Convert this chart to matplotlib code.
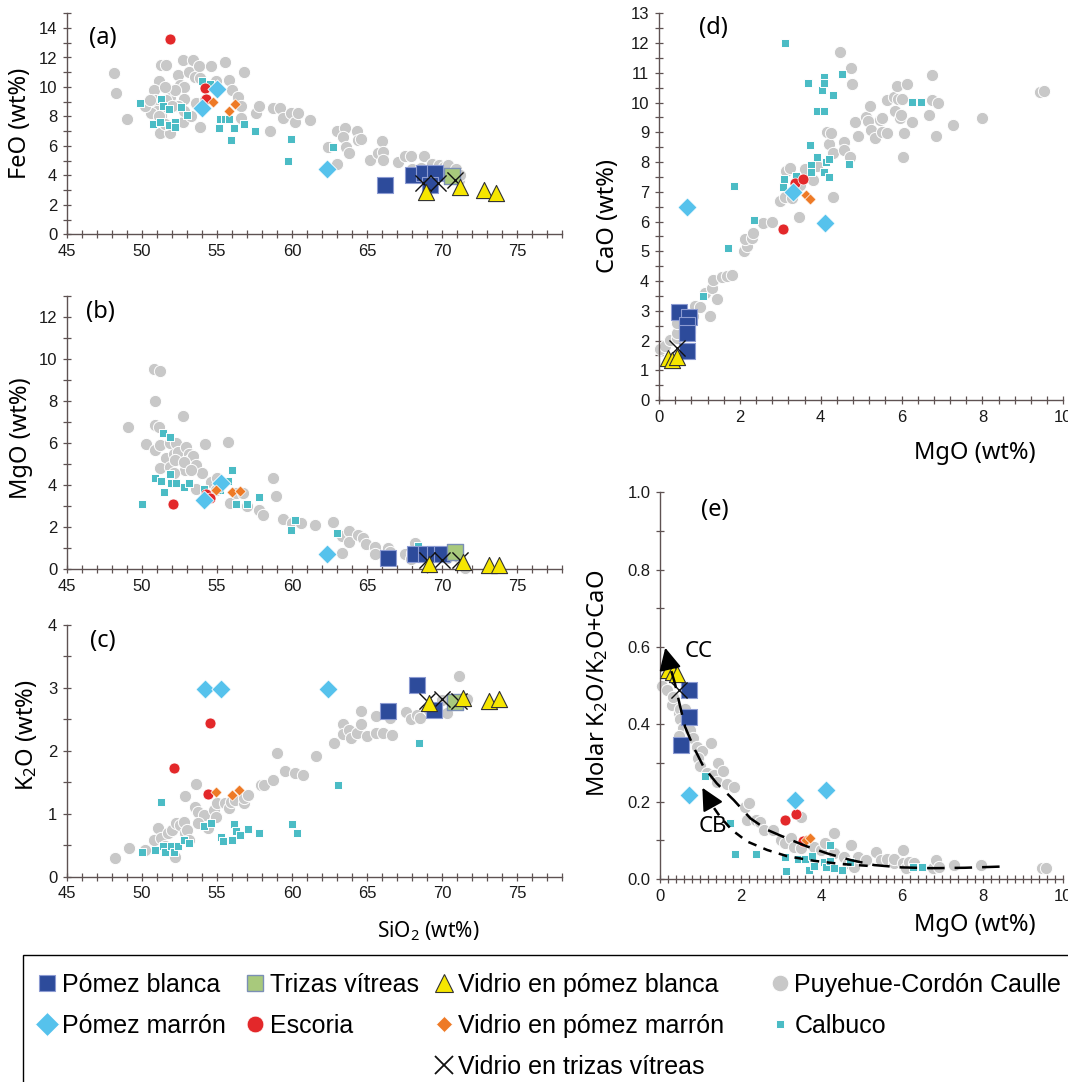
import matplotlib
matplotlib.use("Agg")
import matplotlib.pyplot as plt
from matplotlib.lines import Line2D
from matplotlib.patches import Rectangle
from matplotlib.ticker import MultipleLocator

plt.rcParams['font.family'] = ['Liberation Sans', 'DejaVu Sans']
plt.rcParams['mathtext.fontset'] = 'custom'
plt.rcParams['mathtext.rm'] = 'Noto Sans'
plt.rcParams['mathtext.it'] = 'Noto Sans'
plt.rcParams['mathtext.default'] = 'rm'

LABEL_FONT = ['Noto Sans', 'DejaVu Sans']
AXIS_COLOR = '#5e5252'

# ---------------------------- data ----------------------------
# (a) SiO2 vs FeO
pcc_a = [(48.1, 10.97), (48.3, 9.6), (49.0, 7.8), (51.3, 11.5), (51.6, 11.5), (51.1, 10.4), (50.8, 9.8),
         (50.9, 9.1), (51.0, 8.4), (50.6, 8.2), (51.3, 8.0), (51.2, 6.85), (51.9, 6.85), (51.9, 9.8),
         (51.9, 9.3), (52.4, 10.8), (52.7, 11.8), (53.4, 11.8), (53.1, 11.0), (53.5, 10.7), (52.5, 10.1),
         (52.8, 10.0), (52.8, 9.2), (52.2, 9.8), (52.4, 8.7), (52.7, 7.6), (53.3, 8.0), (53.9, 7.3),
         (53.8, 11.4), (54.6, 11.4), (55.5, 11.7), (55.8, 10.5), (56.0, 9.8), (56.4, 9.3), (56.6, 8.7),
         (56.8, 11.0), (56.6, 7.9), (57.6, 8.2), (57.8, 8.7), (58.5, 7.0), (58.7, 8.55), (59.2, 8.55),
         (59.4, 7.9), (59.9, 8.2), (60.2, 7.6), (60.4, 8.2), (61.2, 7.75), (62.4, 5.95), (63.0, 4.8),
         (63.0, 7.0), (63.5, 7.2), (63.4, 6.6), (63.6, 5.95), (63.8, 5.5), (64.3, 7.0), (64.4, 6.4),
         (64.6, 6.5), (65.2, 5.05), (65.7, 5.5), (66.0, 6.3), (66.1, 5.6), (66.1, 5.05), (67.1, 4.9),
         (67.5, 5.3), (67.9, 5.3), (68.8, 5.3), (68.0, 4.4), (68.6, 4.5), (69.3, 4.8), (69.8, 4.7),
         (70.1, 4.6), (70.4, 4.7), (70.9, 4.4), (71.1, 3.7), (71.2, 4.0), (50.2, 8.7), (50.5, 9.1),
         (51.5, 8.7), (51.5, 10.0), (51.6, 9.1), (52.0, 8.7), (51.1, 8.0), (51.5, 7.5), (53.6, 8.9),
         (52.8, 8.4), (53.9, 10.6), (54.2, 9.1), (54.9, 10.4)]
cal_a = [(49.9, 8.9), (50.7, 7.5), (51.2, 7.6), (51.3, 9.2), (51.4, 8.7), (51.8, 8.5), (51.8, 7.4),
         (52.2, 7.65), (52.2, 7.3), (52.6, 8.65), (53.0, 8.1), (54.0, 10.4), (54.5, 10.2), (55.2, 7.8),
         (55.1, 7.2), (55.5, 7.8), (55.8, 7.8), (55.9, 6.4), (56.1, 7.2), (56.8, 7.5), (57.5, 7.0),
         (59.7, 5.0), (59.9, 6.45), (62.7, 5.9)]
esc_a = [(51.9, 13.25), (54.2, 9.95), (54.3, 9.2)]
pm_a = [(54.0, 8.6), (55.0, 9.85), (62.3, 4.4)]
vpm_a = [(54.7, 8.95), (55.8, 8.35), (56.2, 8.85)]
pb_a = [(66.2, 3.35), (68.05, 4.02), (68.8, 4.14), (69.5, 4.14), (69.2, 3.35)]
tv_a = [(70.65, 3.96)]
vpb_a = [(68.9, 2.89), (71.2, 3.23), (72.8, 3.0), (73.6, 2.78)]
vtv_a = [(68.75, 3.46), (69.75, 3.5), (70.87, 3.68)]

# (b) SiO2 vs MgO
pcc_b = [(49.07, 6.78), (50.8, 9.51), (51.17, 9.42), (50.84, 7.99), (50.9, 6.85), (51.1, 6.78), (50.3, 5.94),
         (50.84, 5.67), (51.2, 5.9), (51.6, 5.27), (51.9, 5.98), (52.1, 5.5), (52.3, 5.98), (52.4, 5.59),
         (52.7, 7.28), (52.9, 4.72), (52.95, 5.83), (53.1, 5.5), (53.2, 5.19), (53.4, 5.38), (53.6, 4.95),
         (51.2, 4.8), (51.9, 4.88), (52.1, 4.56), (53.6, 3.8), (54.0, 4.59), (54.2, 5.95), (54.6, 4.16),
         (55.0, 4.32), (54.9, 3.77), (55.7, 6.03), (55.85, 3.13), (56.3, 3.61), (56.7, 3.64), (57.0, 3.0),
         (57.8, 2.82), (58.06, 2.56), (58.7, 4.32), (58.9, 3.48), (59.4, 2.37), (60.0, 2.18), (60.6, 2.18),
         (61.5, 2.1), (62.7, 2.23), (63.3, 0.76), (63.3, 1.58), (63.8, 1.84), (63.8, 1.31), (64.4, 1.63),
         (64.7, 1.47), (64.9, 1.19), (65.55, 1.08), (65.55, 0.71), (66.4, 1.0), (66.5, 0.84), (67.5, 0.73),
         (67.9, 0.47), (68.2, 1.27), (67.97, 0.76), (69.8, 0.6), (70.3, 0.52), (71.05, 0.6), (71.3, 0.2),
         (71.5, 0.05), (52.2, 5.2), (52.8, 5.1), (53.3, 4.7)]
cal_b = [(50.0, 3.12), (50.84, 4.32), (51.3, 4.21), (51.4, 6.49), (51.45, 3.69), (51.85, 6.28), (51.85, 4.53),
         (51.94, 4.08), (52.3, 4.12), (52.8, 3.93), (53.1, 4.08), (54.1, 3.82), (55.2, 3.75), (55.75, 4.21),
         (56.0, 4.72), (56.3, 3.09), (57.0, 3.12), (57.8, 3.44), (60.2, 2.34), (59.95, 1.87), (63.0, 1.74),
         (68.4, 1.11)]
esc_b = [(52.07, 3.09), (54.3, 3.58), (54.5, 3.37)]
pm_b = [(54.1, 3.29), (55.24, 4.12), (62.36, 0.71)]
vpm_b = [(54.9, 3.77), (56.0, 3.66), (56.5, 3.72)]
pb_b = [(66.4, 0.52), (68.2, 0.71), (68.93, 0.71), (69.53, 0.71), (70.0, 0.71)]
tv_b = [(70.85, 0.81)]
vpb_b = [(69.1, 0.25), (71.4, 0.36), (73.1, 0.2), (73.8, 0.2)]
vtv_b = [(69.0, 0.45), (70.0, 0.45), (71.2, 0.45)]

# (c) SiO2 vs K2O
pcc_c = [(48.2, 0.30), (49.1, 0.45), (50.2, 0.42), (51.06, 0.77), (50.8, 0.58), (51.3, 0.61), (51.5, 0.48),
         (51.7, 0.69), (52.0, 0.74), (52.2, 0.32), (52.3, 0.85), (52.5, 0.82), (52.8, 0.87), (52.9, 0.69),
         (53.0, 0.74), (53.15, 0.58), (52.9, 1.29), (53.5, 1.1), (53.6, 1.47), (53.7, 1.03), (54.1, 0.98),
         (53.7, 0.85), (54.4, 0.77), (54.8, 1.06), (54.9, 0.95), (55.0, 1.17), (55.5, 1.17), (55.8, 1.09),
         (55.9, 1.19), (56.2, 1.22), (56.8, 1.17), (56.8, 1.25), (57.07, 1.3), (57.9, 1.46), (58.1, 1.45),
         (58.7, 1.53), (59.0, 1.96), (59.5, 1.68), (60.2, 1.65), (60.7, 1.62), (61.6, 1.92), (62.8, 2.12),
         (63.4, 2.42), (63.4, 2.27), (63.8, 2.33), (63.9, 2.2), (64.3, 2.28), (64.6, 2.64), (64.6, 2.43),
         (65.0, 2.23), (65.6, 2.55), (65.6, 2.29), (66.1, 2.29), (66.5, 2.52), (66.65, 2.25), (67.6, 2.61),
         (67.9, 2.5), (68.3, 2.57), (68.5, 2.52), (69.1, 2.65), (70.0, 2.81), (70.3, 2.6), (70.7, 2.81),
         (71.1, 3.19), (71.2, 2.83), (71.65, 2.83)]
cal_c = [(50.0, 0.39), (50.9, 0.42), (51.3, 1.19), (51.4, 0.49), (51.5, 0.4), (51.94, 0.49), (52.1, 0.4),
         (52.4, 0.48), (52.8, 0.58), (53.15, 0.54), (54.1, 0.81), (54.6, 0.85), (55.3, 0.63), (55.4, 0.57),
         (56.0, 0.59), (56.1, 0.84), (56.3, 0.73), (56.5, 0.67), (57.07, 0.76), (57.8, 0.7), (60.0, 0.84),
         (60.3, 0.69), (63.06, 1.45), (68.46, 2.12)]
esc_c = [(52.1, 1.72), (54.5, 2.44), (54.4, 1.32)]
pm_c = [(54.2, 2.98), (55.3, 2.98), (62.4, 2.98)]
vpm_c = [(54.9, 1.35), (56.0, 1.3), (56.45, 1.37)]
pb_c = [(68.3, 3.04), (66.4, 2.64), (69.45, 2.65)]
tv_c = [(70.86, 2.77)]
vpb_c = [(69.1, 2.76), (71.4, 2.84), (73.1, 2.79), (73.8, 2.82)]
vtv_c = [(69.0, 2.79), (70.0, 2.82), (71.1, 2.79)]

# (d) MgO vs CaO
pcc_d = [(0.02, 1.7), (0.15, 1.82), (0.27, 2.02), (0.44, 2.07), (0.44, 2.24), (0.44, 2.6), (0.56, 2.91),
         (0.83, 2.83), (0.89, 3.16), (1.01, 3.12), (1.25, 2.83), (1.14, 3.59), (1.3, 3.76), (1.34, 4.04),
         (1.44, 3.39), (1.55, 4.15), (1.67, 4.17), (1.81, 4.19), (2.1, 5.02), (2.17, 5.18), (2.13, 5.4),
         (2.29, 5.44), (2.33, 5.61), (2.56, 5.96), (2.79, 5.98), (3.0, 6.69), (3.12, 6.84), (3.14, 7.7),
         (3.24, 7.81), (3.28, 6.78), (3.46, 6.14), (3.49, 7.23), (3.61, 7.76), (3.82, 7.4), (3.92, 7.88),
         (4.15, 9.02), (4.21, 8.61), (4.25, 8.99), (4.31, 8.3), (4.31, 6.82), (4.48, 11.69), (4.58, 8.69),
         (4.58, 8.39), (4.74, 11.15), (4.77, 10.62), (4.72, 8.16), (4.85, 9.36), (4.91, 8.88), (5.12, 9.53),
         (5.22, 9.89), (5.18, 9.38), (5.24, 9.08), (5.35, 8.82), (5.47, 9.42), (5.51, 9.47), (5.51, 9.02),
         (5.63, 8.99), (5.63, 10.07), (5.81, 10.2), (5.84, 9.72), (5.89, 10.56), (5.92, 10.11), (5.96, 9.47),
         (6.0, 10.11), (5.99, 9.58), (6.03, 8.18), (6.06, 8.97), (6.13, 10.63), (6.27, 9.36), (6.69, 9.58),
         (6.76, 10.93), (6.76, 10.09), (6.85, 8.86), (6.91, 9.98), (7.28, 9.25), (7.98, 9.47), (9.42, 10.37),
         (9.52, 10.39)]
cal_d = [(1.1, 3.51), (1.71, 5.1), (1.85, 7.21), (2.35, 6.05), (3.06, 7.15), (3.1, 7.42), (3.12, 12.0),
         (3.4, 7.54), (3.68, 10.65), (3.73, 8.58), (3.75, 7.9), (3.75, 7.65), (3.9, 9.73), (3.9, 8.18),
         (4.04, 10.43), (4.08, 10.85), (4.09, 10.65), (4.09, 9.72), (4.09, 7.66), (4.12, 7.99), (4.2, 7.51),
         (4.21, 8.09), (4.31, 10.24), (4.52, 10.96), (4.71, 7.93), (6.27, 10.03), (6.47, 10.03)]
esc_d = [(3.06, 5.74), (3.36, 7.31), (3.57, 7.42)]
pm_d = [(0.7, 6.5), (3.32, 7.0), (4.1, 5.96)]
vpm_d = [(3.64, 6.89), (3.73, 6.76)]
pb_d = [(0.49, 2.97), (0.75, 2.8), (0.7, 2.52), (0.7, 2.24), (0.7, 1.66)]
vpb_d = [(0.23, 1.4), (0.31, 1.35), (0.44, 1.44)]
vtv_d = [(0.44, 1.74)]

# (e) MgO vs molar K2O/(K2O+CaO)
pcc_e = [(0.04, 0.5), (0.17, 0.49), (0.29, 0.45), (0.33, 0.47), (0.46, 0.43), (0.5, 0.44), (0.5, 0.415),
         (0.62, 0.44), (0.58, 0.39), (0.46, 0.37), (0.75, 0.385), (0.83, 0.364), (0.91, 0.342), (1.04, 0.33),
         (0.95, 0.312), (1.0, 0.292), (1.27, 0.351), (1.16, 0.273), (1.33, 0.269), (1.45, 0.301),
         (1.56, 0.279), (1.41, 0.252), (1.66, 0.245), (1.83, 0.239), (2.12, 0.187), (2.2, 0.197),
         (2.16, 0.153), (2.37, 0.153), (2.49, 0.148), (2.57, 0.127), (2.8, 0.127), (2.99, 0.101),
         (3.11, 0.092), (3.24, 0.105), (3.32, 0.084), (3.49, 0.161), (3.49, 0.079), (3.82, 0.084),
         (3.98, 0.075), (4.32, 0.118), (4.32, 0.066), (4.56, 0.058), (4.73, 0.088), (4.65, 0.041),
         (4.81, 0.032), (4.9, 0.058), (5.1, 0.049), (5.35, 0.071), (5.48, 0.049), (5.64, 0.053),
         (5.81, 0.041), (5.81, 0.053), (6.02, 0.075), (6.02, 0.041), (6.1, 0.028), (6.18, 0.045),
         (6.31, 0.041), (6.76, 0.028), (6.85, 0.049), (6.93, 0.032), (7.3, 0.036), (7.97, 0.036),
         (9.46, 0.028), (9.56, 0.028), (4.1, 0.092)]
cal_e = [(1.12, 0.266), (1.73, 0.146), (1.87, 0.065), (2.37, 0.065), (3.09, 0.056), (3.13, 0.021),
         (3.42, 0.053), (3.59, 0.051), (3.69, 0.023), (3.76, 0.06), (3.82, 0.034), (4.07, 0.045),
         (4.11, 0.032), (4.22, 0.088), (4.22, 0.047), (4.32, 0.028), (4.52, 0.023), (4.71, 0.045),
         (6.28, 0.03), (6.49, 0.03)]
esc_e = [(3.1, 0.153), (3.38, 0.167), (3.55, 0.097)]
pm_e = [(0.72, 0.217), (3.34, 0.203), (4.11, 0.23)]
vpm_e = [(3.63, 0.101), (3.72, 0.105)]
pb_e = [(0.72, 0.49), (0.72, 0.42), (0.51, 0.347)]
vpb_e = [(0.21, 0.54), (0.33, 0.536), (0.41, 0.53)]
vtv_e = [(0.47, 0.49)]

# trend curves in (e)
cc_curve = [(8.42, 0.032), (7.55, 0.029), (6.72, 0.028), (5.98, 0.03), (5.31, 0.036), (4.73, 0.049),
            (4.15, 0.066), (3.65, 0.084), (3.15, 0.105), (2.66, 0.127), (2.24, 0.157), (1.83, 0.204),
            (1.41, 0.247), (1.08, 0.29), (0.83, 0.342), (0.62, 0.394), (0.5, 0.446), (0.37, 0.506),
            (0.21, 0.562)]
cb_curve = [(5.15, 0.034), (4.48, 0.039), (3.82, 0.047), (3.15, 0.059), (2.66, 0.075), (2.16, 0.097),
            (1.78, 0.127), (1.49, 0.161), (1.29, 0.191)]
cc_arrow_tip = (0.13, 0.598)
cb_arrow_tip = (1.05, 0.236)

legend_cols = [['Pómez blanca', 'Pómez marrón'],
               ['Trizas vítreas', 'Escoria'],
               ['Vidrio en pómez blanca', 'Vidrio en pómez marrón', 'Vidrio en trizas vítreas'],
               ['Puyehue-Cordón Caulle', 'Calbuco']]

# ---------------------------- styles ----------------------------
styles = {
    'pcc': dict(marker='o', s=78, c='#c8c8c8', edgecolors='white', linewidths=0.7, zorder=2),
    'cal': dict(marker='s', s=40, c='#4bbcc5', edgecolors='white', linewidths=0.7, zorder=3),
    'pb': dict(marker='s', s=120, c='#2d4b9b', edgecolors='#8c9bd2', linewidths=0.8, zorder=4),
    'pm': dict(marker='D', s=95, c='#56c2ec', edgecolors='white', linewidths=0.6, zorder=4),
    'esc': dict(marker='o', s=62, c='#e3282a', edgecolors='white', linewidths=0.5, zorder=4),
    'tv': dict(marker='s', s=120, c='#a8c97c', edgecolors='#7b8fb5', linewidths=1.0, zorder=5),
    'vpm': dict(marker='D', s=32, c='#ee7a26', edgecolors='white', linewidths=0.5, zorder=5),
    'vtv': dict(marker='x', s=135, c='#111111', linewidths=1.0, zorder=6),
    'vpb': dict(marker='^', s=135, c='#f6e600', edgecolors='#333333', linewidths=0.8, zorder=7),
}


def scatter_all(ax, series):
    for key, pairs in series.items():
        xs = [p[0] for p in pairs]
        ys = [p[1] for p in pairs]
        ax.scatter(xs, ys, clip_on=False, **styles[key])


def setup(ax, xlim, ylim, xmaj, xmin, ymaj, ymin):
    ax.set_xlim(*xlim)
    ax.set_ylim(*ylim)
    ax.xaxis.set_major_locator(MultipleLocator(xmaj))
    ax.xaxis.set_minor_locator(MultipleLocator(xmin))
    ax.yaxis.set_major_locator(MultipleLocator(ymaj))
    ax.yaxis.set_minor_locator(MultipleLocator(ymin))
    for s in ['top', 'right']:
        ax.spines[s].set_visible(False)
    for s in ['left', 'bottom']:
        ax.spines[s].set_color(AXIS_COLOR)
        ax.spines[s].set_linewidth(1.0)
    ax.tick_params(which='both', direction='inout', length=6, width=0.9, color=AXIS_COLOR,
                   labelsize=12, labelcolor='#1a1a1a', pad=4)
    ax.patch.set_alpha(0)


def letter(ax, x, y, txt):
    ax.text(x, y, txt, transform=ax.transAxes, ha='center', va='center', fontsize=17, family=LABEL_FONT)


W, H = 1068, 1082
fig = plt.figure(figsize=(W / 100, H / 100), dpi=100)


def px_axes(left, right, top, bottom):
    return fig.add_axes([left / W, 1 - bottom / H, (right - left) / W, (bottom - top) / H])


ax_a = px_axes(67, 562, 13.3, 234.3)
ax_b = px_axes(67, 562, 295.7, 569.3)
ax_c = px_axes(67, 562, 625, 876.7)
ax_d = px_axes(659, 1063.3, 13.3, 400)
ax_e = px_axes(660, 1063.3, 492.3, 879)

setup(ax_a, (45, 78), (0, 15), 5, 1, 2, 1)
setup(ax_b, (45, 78), (0, 13), 5, 1, 2, 1)
setup(ax_c, (45, 78), (0, 4), 5, 1, 1, 0.5)
setup(ax_d, (0, 10), (0, 13), 2, 0.4, 1, 0.5)
setup(ax_e, (0, 10), (0, 1.0), 2, 0.2, 0.2, 0.1)

scatter_all(ax_a, {'pcc': pcc_a, 'cal': cal_a, 'esc': esc_a, 'pm': pm_a, 'vpm': vpm_a,
                   'pb': pb_a, 'tv': tv_a, 'vtv': vtv_a, 'vpb': vpb_a})
scatter_all(ax_b, {'pcc': pcc_b, 'cal': cal_b, 'esc': esc_b, 'pm': pm_b, 'vpm': vpm_b,
                   'pb': pb_b, 'tv': tv_b, 'vtv': vtv_b, 'vpb': vpb_b})
scatter_all(ax_c, {'pcc': pcc_c, 'cal': cal_c, 'esc': esc_c, 'pm': pm_c, 'vpm': vpm_c,
                   'pb': pb_c, 'tv': tv_c, 'vtv': vtv_c, 'vpb': vpb_c})
scatter_all(ax_d, {'pcc': pcc_d, 'cal': cal_d, 'esc': esc_d, 'pm': pm_d, 'vpm': vpm_d,
                   'pb': pb_d, 'vtv': vtv_d, 'vpb': vpb_d})
scatter_all(ax_e, {'pcc': pcc_e, 'cal': cal_e, 'esc': esc_e, 'pm': pm_e, 'vpm': vpm_e,
                   'pb': pb_e, 'vtv': vtv_e, 'vpb': vpb_e})

# trend lines + arrows in (e)
ax_e.plot([p[0] for p in cc_curve], [p[1] for p in cc_curve], color='black', lw=1.8,
          dashes=(7, 4), zorder=8)
ax_e.plot([p[0] for p in cb_curve], [p[1] for p in cb_curve], color='black', lw=1.8,
          dashes=(3.5, 3), zorder=8)
for tip, tail in [(cc_arrow_tip, cc_curve[-1]), (cb_arrow_tip, cb_curve[-1])]:
    ax_e.annotate('', xy=tip, xytext=tail,
                  arrowprops=dict(arrowstyle='-|>,head_length=0.8,head_width=0.4', color='black',
                                  lw=1.5, mutation_scale=17, shrinkA=0, shrinkB=0), zorder=9)
ax_e.text(0.6, 0.588, 'CC', fontsize=16, family=LABEL_FONT, va='center', ha='left')
ax_e.text(0.95, 0.135, 'CB', fontsize=16, family=LABEL_FONT, va='center', ha='left')

# axis labels
ax_a.set_ylabel('FeO (wt%)', fontsize=17, family=LABEL_FONT)
ax_a.yaxis.set_label_coords(-0.07, 0.5)
ax_b.set_ylabel('MgO (wt%)', fontsize=17, family=LABEL_FONT)
ax_b.yaxis.set_label_coords(-0.068, 0.48)
ax_c.set_ylabel('K$_2$O (wt%)', fontsize=17, family=LABEL_FONT)
ax_c.yaxis.set_label_coords(-0.057, 0.56)
ax_c.set_xlabel('SiO$_2$ (wt%)', fontsize=15, family=LABEL_FONT)
ax_c.xaxis.set_label_coords(0.73, -0.168)
ax_d.set_ylabel('CaO (wt%)', fontsize=17, family=LABEL_FONT)
ax_d.yaxis.set_label_coords(-0.097, 0.476)
ax_d.set_xlabel('MgO (wt%)', fontsize=17, family=LABEL_FONT)
ax_d.xaxis.set_label_coords(0.78, -0.106)
ax_e.set_ylabel('Molar K$_2$O/K$_2$O+CaO', fontsize=17, family=LABEL_FONT)
ax_e.yaxis.set_label_coords(-0.124, 0.507)
ax_e.set_xlabel('MgO (wt%)', fontsize=17, family=LABEL_FONT)
ax_e.xaxis.set_label_coords(0.78, -0.088)

letter(ax_a, 0.073, 0.888, '(a)')
letter(ax_b, 0.067, 0.94, '(b)')
letter(ax_c, 0.073, 0.936, '(c)')
letter(ax_d, 0.134, 0.962, '(d)')
letter(ax_e, 0.136, 0.954, '(e)')


# ---------------------------- legend ----------------------------
def handle(key, ms):
    st = styles[key]
    if key == 'vtv':
        return Line2D([], [], linestyle='none', marker='x', markersize=ms, color=st['c'],
                      markeredgewidth=1.3)
    return Line2D([], [], linestyle='none', marker=st['marker'], markersize=ms,
                  markerfacecolor=st['c'], markeredgecolor=st['edgecolors'],
                  markeredgewidth=st['linewidths'])


legend_handles = [[handle('pb', 12), handle('pm', 12)],
                  [handle('tv', 12), handle('esc', 12)],
                  [handle('vpb', 13), handle('vpm', 8), handle('vtv', 13)],
                  [handle('pcc', 12), handle('cal', 6)]]
col_left_px = [39, 247, 436, 772]

for hs, labels, left in zip(legend_handles, legend_cols, col_left_px):
    fig.legend(hs, labels, loc='upper left', bbox_to_anchor=(left / W, 1 - 973 / H),
               frameon=False, fontsize=18, handlelength=0.6, handletextpad=0.3,
               labelspacing=0.68, borderpad=0, borderaxespad=0)

fig.patches.append(Rectangle((23 / W, -0.1), 1.2, (H - 955) / H + 0.1, transform=fig.transFigure,
                             fill=False, edgecolor='black', lw=1.0))

fig.savefig('out.png', dpi=100)
